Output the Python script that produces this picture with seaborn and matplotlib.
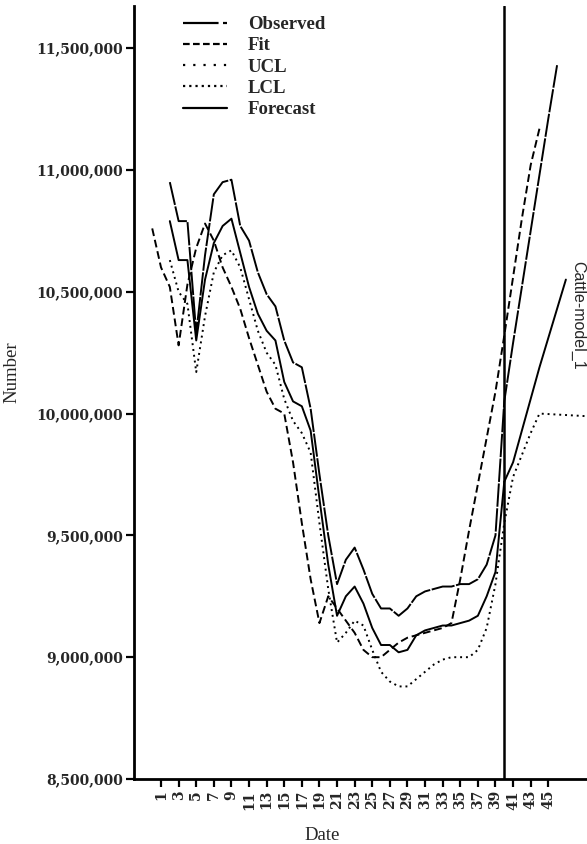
import matplotlib
matplotlib.use("Agg")
import matplotlib.pyplot as plt
from matplotlib.lines import Line2D
from matplotlib.ticker import FuncFormatter
import pandas as pd
import seaborn as sns

# ---- series (values in millions of head) ----
observed_dates = list(range(0, 45))
observed = [10.76, 10.60, 10.52, 10.28, 10.53, 10.68, 10.78, 10.71, 10.60, 10.52,
            10.43, 10.31, 10.20, 10.09, 10.02, 10.00, 9.80, 9.55, 9.32, 9.14,
            9.25, 9.20, 9.15, 9.10, 9.03, 9.00, 9.00, 9.03, 9.06, 9.08,
            9.09, 9.10, 9.11, 9.12, 9.14, 9.32, 9.52, 9.71, 9.90, 10.09,
            10.32, 10.56, 10.80, 11.02, 11.17]

fit_dates = list(range(2, 41))
fit = [10.79, 10.63, 10.63, 10.30, 10.55, 10.70, 10.77, 10.80, 10.66, 10.52,
       10.41, 10.34, 10.30, 10.13, 10.05, 10.03, 9.93, 9.65, 9.38, 9.17,
       9.25, 9.29, 9.22, 9.12, 9.05, 9.05, 9.02, 9.03, 9.09, 9.11,
       9.12, 9.13, 9.13, 9.14, 9.15, 9.17, 9.25, 9.35, 9.72]

ucl_dates = list(range(2, 47))
ucl = [10.95, 10.79, 10.79, 10.33, 10.65, 10.90, 10.95, 10.96, 10.77, 10.71,
       10.58, 10.49, 10.44, 10.30, 10.21, 10.19, 10.02, 9.75, 9.50, 9.30,
       9.40, 9.45, 9.36, 9.26, 9.20, 9.20, 9.17, 9.20, 9.25, 9.27,
       9.28, 9.29, 9.29, 9.30, 9.30, 9.32, 9.38, 9.50, 10.05, 10.29,
       10.52, 10.75, 10.98, 11.21, 11.43]

lcl_dates = list(range(2, 51))
lcl = [10.63, 10.50, 10.45, 10.17, 10.40, 10.58, 10.65, 10.67, 10.60, 10.47,
       10.34, 10.25, 10.20, 10.06, 9.97, 9.92, 9.84, 9.55, 9.28, 9.06,
       9.10, 9.15, 9.13, 9.03, 8.94, 8.90, 8.88, 8.88, 8.91, 8.94,
       8.97, 8.99, 9.00, 9.00, 9.00, 9.03, 9.12, 9.30, 9.55, 9.74,
       9.83, 9.92, 10.00, 9.998, 9.996, 9.994, 9.992, 9.99, 9.988]

forecast_dates = list(range(40, 48))
forecast = [9.72, 9.80, 9.93, 10.06, 10.19, 10.31, 10.43, 10.55]

series_names = ["Observed", "Fit", "UCL", "LCL", "Forecast"]
x_ticks = list(range(1, 46, 2))
y_ticks = [8_500_000, 9_000_000, 9_500_000, 10_000_000,
           10_500_000, 11_000_000, 11_500_000]
forecast_origin = 40

frames = []
for name, d, v in [("Observed", observed_dates, observed),
                   ("Fit", fit_dates, fit),
                   ("UCL", ucl_dates, ucl),
                   ("LCL", lcl_dates, lcl),
                   ("Forecast", forecast_dates, forecast)]:
    frames.append(pd.DataFrame({"Date": d,
                                "Number": [x * 1e6 for x in v],
                                "Series": name}))
df = pd.concat(frames, ignore_index=True)

sns.set_theme(style="white")
plt.rcParams["font.family"] = ["DejaVu Serif"]

W, H = 587, 844
fig = plt.figure(figsize=(W / 100, H / 100), dpi=100)
ax = fig.add_axes([134 / W, 65 / H, 453 / W, 773 / H])

line_dashes = {
    "Observed": (4, 2),
    "Fit": "",
    "UCL": (12, 0.8),
    "LCL": (1, 2),
    "Forecast": "",
}
sns.lineplot(data=df, x="Date", y="Number", style="Series",
             style_order=series_names, dashes=line_dashes, units="Series",
             estimator=None, color="black", linewidth=1.4, legend=False, ax=ax)

ax.axvline(forecast_origin, color="black", linewidth=1.8)

ax.set_xlim(-2.07, 49.4)
ax.set_ylim(8_500_000, 11_673_000)
ax.set_xticks(x_ticks)
ax.set_xticklabels([str(t) for t in x_ticks], rotation=90,
                   fontweight="bold", fontsize=10)
ax.set_yticks(y_ticks)
ax.yaxis.set_major_formatter(FuncFormatter(lambda v, p: f"{v:,.0f}"))
for lab in ax.get_yticklabels():
    lab.set_fontweight("bold")
    lab.set_fontsize(10)

for side in ("top", "right"):
    ax.spines[side].set_visible(False)
for side in ("left", "bottom"):
    ax.spines[side].set_linewidth(2)
    ax.spines[side].set_color("black")
ax.tick_params(axis="both", direction="out", length=6, width=1.6,
               color="black", pad=2, bottom=True, left=True)

ax.set_xlabel("Date", family="Liberation Serif", fontsize=13.5)
ax.xaxis.set_label_coords((322 - 134) / 453, (779 - 827) / 773)
ax.set_ylabel("Number", family="Liberation Serif", fontsize=13.5)
ax.yaxis.set_label_coords((20 - 134) / 453, (779 - 372) / 773)

legend_styles = {
    "Observed": (0, (16, 2, 2, 2)),
    "Fit": (0, (3, 1.5)),
    "UCL": (0, (1, 3.6)),
    "LCL": (0, (1, 1.8)),
    "Forecast": "-",
}
handles = [Line2D([], [], color="black", linewidth=1.6, linestyle=legend_styles[n])
           for n in series_names]
fig.legend(handles, series_names, loc="upper left",
           bbox_to_anchor=(183 / W, 1 - 16 / H), frameon=False,
           prop={"family": "Liberation Serif", "weight": "bold", "size": 13.5},
           handlelength=2.35, handletextpad=1.1, labelspacing=0.22,
           borderpad=0, borderaxespad=0)

fig.text(578 / W, 1 - 315 / H, "Cattle-model_1", rotation=-90,
         ha="center", va="center", family="Liberation Sans",
         fontsize=11.5)

fig.savefig("out.png", dpi=100)
